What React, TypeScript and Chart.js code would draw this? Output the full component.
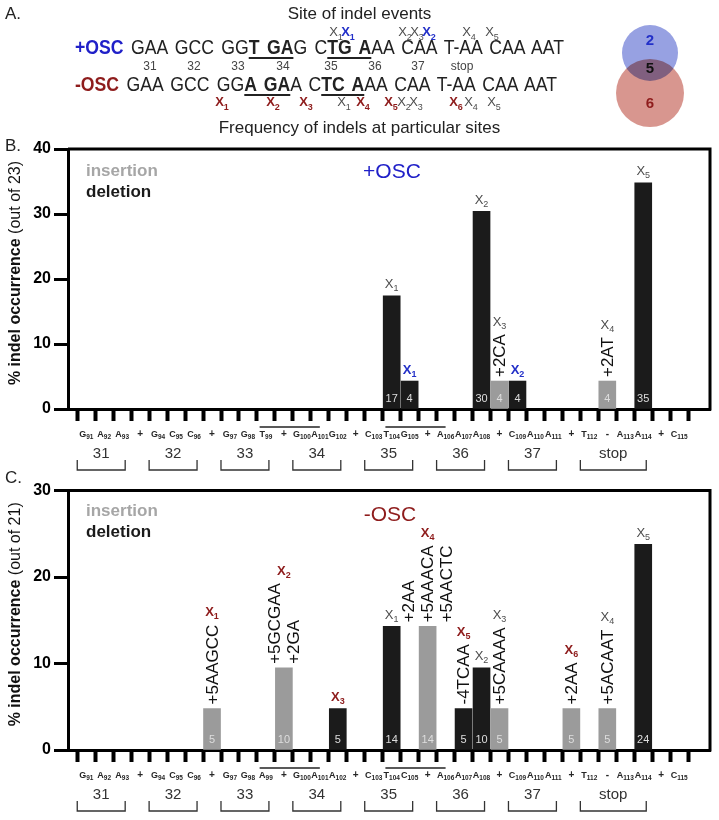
import React, { useEffect, useRef } from 'react';
import { Chart, registerables } from 'chart.js';
Chart.register(...registerables);

const FONT = '"Liberation Sans", Arial, Helvetica, sans-serif';
const INS_COLOR = '#9b9b9b';
const DEL_COLOR = '#1b1b1b';
const SITE_COLORS: Record<string, string> = { g: '#4d4d4d', b: '#2330c8', r: '#8e1c1c' };

// ---------- Panel A ----------
const seqPlus: [string, boolean][] = [['GAA GCC GG', false], ['T GA', true], ['G C', false], ['TG A', true], ['AA CAA T-AA CAA AAT', false]];
const seqMinus: [string, boolean][] = [['GAA GCC GG', false], ['A GA', true], ['A C', false], ['TC A', true], ['AA CAA T-AA CAA AAT', false]];
const codonNumbers = ['31', '32', '33', '34', '35', '36', '37', 'stop'];
const codonNumberX = [150, 194, 238, 283, 331, 375, 418, 462];
const siteTopN = ['1', '1', '2', '3', '2', '4', '5'];
const siteTopStyle = ['g', 'b', 'g', 'g', 'b', 'g', 'g'];
const siteTopX = [336, 348, 405, 417, 429, 469, 492];
const siteBotN = ['1', '2', '3', '1', '4', '5', '2', '3', '6', '4', '5'];
const siteBotStyle = ['r', 'r', 'r', 'g', 'r', 'r', 'g', 'g', 'r', 'g', 'g'];
const siteBotX = [222, 273, 306, 344, 363, 391, 404, 416, 456, 471, 494];
const vennLabels = ['2', '5', '6'];

// ---------- Panel B (+OSC, out of 23) ----------
const bCategories = ['G91', 'A92', 'A93', '+', 'G94', 'C95', 'C96', '+', 'G97', 'G98', 'T99', '+', 'G100', 'A101', 'G102', '+', 'C103', 'T104', 'G105', '+', 'A106', 'A107', 'A108', '+', 'C109', 'A110', 'A111', '+', 'T112', '-', 'A113', 'A114', '+', 'C115'];
const bBarCat = [17, 18, 22, 23, 24, 29, 31];
const bBarValue = [17.4, 4.3, 30.4, 4.3, 4.3, 4.3, 34.8];
const bBarType = ['del', 'del', 'del', 'ins', 'del', 'ins', 'del'];
const bBarCount = ['17', '4', '30', '4', '4', '4', '35'];
const bBarSite = ['X1', 'X1', 'X2', 'X3', 'X2', 'X4', 'X5'];
const bBarSiteStyle = ['g', 'b', 'g', 'g', 'b', 'g', 'g'];
const bBarIndel = ['', '', '', '+2CA', '', '+2AT', ''];
const bYTicks = [0, 10, 20, 30, 40];
const bOverlines = [[10, 13], [17, 20]];

// ---------- Panel C (-OSC, out of 21) ----------
const cCategories = ['G91', 'A92', 'A93', '+', 'G94', 'C95', 'C96', '+', 'G97', 'G98', 'A99', '+', 'G100', 'A101', 'A102', '+', 'C103', 'T104', 'C105', '+', 'A106', 'A107', 'A108', '+', 'C109', 'A110', 'A111', '+', 'T112', '-', 'A113', 'A114', '+', 'C115'];
const cBarCat = [7, 11, 14, 17, 19, 21, 22, 23, 27, 29, 31];
const cBarValue = [4.8, 9.5, 4.8, 14.3, 14.3, 4.8, 9.5, 4.8, 4.8, 4.8, 23.8];
const cBarType = ['ins', 'ins', 'del', 'del', 'ins', 'del', 'del', 'ins', 'ins', 'ins', 'del'];
const cBarCount = ['5', '10', '5', '14', '14', '5', '10', '5', '5', '5', '24'];
const cBarSite = ['X1', 'X2', 'X3', 'X1', 'X4', 'X5', 'X2', 'X3', 'X6', 'X4', 'X5'];
const cBarSiteStyle = ['r', 'r', 'r', 'g', 'r', 'r', 'g', 'g', 'r', 'g', 'g'];
const cBarIndel = ['+5AAGCC', '+5GCGAA|+2GA', '', '', '+2AA|+5AAACA|+5AACTC', '-4TCAA', '', '+5CAAAA', '+2AA', '+5ACAAT', ''];
const cYTicks = [0, 10, 20, 30];
const cOverlines = [[10, 13], [17, 20]];

// codon groups (same for both panels)
const codonLabels = ['31', '32', '33', '34', '35', '36', '37', 'stop'];
const codonFirst = [0, 4, 8, 12, 16, 20, 24, 28];
const codonLast = [2, 6, 10, 14, 18, 22, 26, 31];

type PanelProps = {
  categories: string[]; barCat: number[]; barValue: number[]; barType: string[]; barCount: string[];
  barSite: string[]; barSiteStyle: string[]; barIndel: string[]; yTicks: number[]; overlines: number[][];
  outOf: string; top: number; height: number; padTop: number; padBottom: number;
};

function drawSite(ctx: CanvasRenderingContext2D, label: string, style: string, x: number, y: number) {
  const n = label.slice(1);
  const bold = style !== 'g' ? 'bold ' : '';
  ctx.font = `${bold}13px ${FONT}`;
  const w1 = ctx.measureText('X').width;
  ctx.font = `${bold}9px ${FONT}`;
  const w2 = ctx.measureText(n).width;
  const sx = x - (w1 + w2) / 2;
  ctx.fillStyle = SITE_COLORS[style];
  ctx.textAlign = 'left';
  ctx.textBaseline = 'alphabetic';
  ctx.font = `${bold}13px ${FONT}`;
  ctx.fillText('X', sx, y + 4.5);
  ctx.font = `${bold}9px ${FONT}`;
  ctx.fillText(n, sx + w1, y + 7.5);
}

function makePlugin(p: PanelProps) {
  return {
    id: 'indelAnnotations',
    afterDraw(chart: any) {
      const ctx: CanvasRenderingContext2D = chart.ctx;
      const xs = chart.scales.x;
      const ys = chart.scales.y;
      const area = chart.chartArea;
      const axisY = ys.getPixelForValue(0);
      const step = xs.getPixelForValue(1) - xs.getPixelForValue(0);
      ctx.save();
      // box top and right borders
      ctx.strokeStyle = '#000';
      ctx.lineWidth = 3;
      ctx.beginPath();
      ctx.moveTo(area.left, area.top);
      ctx.lineTo(area.right, area.top);
      ctx.lineTo(area.right, axisY + 1.5);
      ctx.stroke();

      // bar annotations
      p.barCat.forEach((c, i) => {
        const x = xs.getPixelForValue(c);
        const yTop = ys.getPixelForValue(p.barValue[i]);
        ctx.font = `11px ${FONT}`;
        ctx.fillStyle = '#dedede';
        ctx.textAlign = 'center';
        ctx.textBaseline = 'middle';
        ctx.fillText(p.barCount[i], x, axisY - 10);
        const texts = p.barIndel[i] ? p.barIndel[i].split('|') : [];
        let maxW = 0;
        ctx.font = `17px ${FONT}`;
        ctx.fillStyle = '#111';
        texts.forEach((t, k) => {
          const off = (k - (texts.length - 1) / 2) * 19;
          const w = ctx.measureText(t).width;
          maxW = Math.max(maxW, w);
          ctx.save();
          ctx.translate(x + off + 1, yTop - 4);
          ctx.rotate(-Math.PI / 2);
          ctx.textAlign = 'left';
          ctx.textBaseline = 'middle';
          ctx.fillText(t, 0, 0);
          ctx.restore();
        });
        const my = texts.length ? yTop - 4 - maxW - 13 : yTop - 12;
        drawSite(ctx, p.barSite[i], p.barSiteStyle[i], x, my);
      });

      // category labels with subscripts
      ctx.fillStyle = '#262626';
      ctx.textBaseline = 'alphabetic';
      ctx.textAlign = 'left';
      p.categories.forEach((lab, i) => {
        const x = xs.getPixelForValue(i);
        const m = lab.match(/^([A-Z+\-])(\d*)$/);
        const L = m ? m[1] : lab;
        const sub = m ? m[2] : '';
        const big = sub ? 9 : 10;
        ctx.font = `bold ${big}px ${FONT}`;
        const w1 = ctx.measureText(L).width;
        ctx.font = `bold 6.5px ${FONT}`;
        const w2 = ctx.measureText(sub).width;
        const sx = x - (w1 + w2) / 2;
        ctx.font = `bold ${big}px ${FONT}`;
        ctx.fillText(L, sx, axisY + 28);
        ctx.font = `bold 6.5px ${FONT}`;
        ctx.fillText(sub, sx + w1, axisY + 30);
      });

      // overlines
      ctx.strokeStyle = '#222';
      ctx.lineWidth = 1.6;
      p.overlines.forEach(([a, b]) => {
        ctx.beginPath();
        ctx.moveTo(xs.getPixelForValue(a) - 0.35 * step, axisY + 18);
        ctx.lineTo(xs.getPixelForValue(b), axisY + 18);
        ctx.stroke();
      });

      // codon brackets
      ctx.strokeStyle = '#333';
      ctx.lineWidth = 1.3;
      ctx.fillStyle = '#333';
      ctx.font = `15px ${FONT}`;
      ctx.textAlign = 'center';
      ctx.textBaseline = 'middle';
      codonLabels.forEach((lab, i) => {
        const x0 = xs.getPixelForValue(codonFirst[i]) - 9;
        const x1 = xs.getPixelForValue(codonLast[i]) + 3;
        ctx.fillText(lab, (x0 + x1) / 2, axisY + 45);
        ctx.beginPath();
        ctx.moveTo(x0, axisY + 51);
        ctx.lineTo(x0, axisY + 61);
        ctx.lineTo(x1, axisY + 61);
        ctx.lineTo(x1, axisY + 51);
        ctx.stroke();
      });

      // y title
      ctx.save();
      ctx.translate(16, (area.top + axisY) / 2 - 6);
      ctx.rotate(-Math.PI / 2);
      const t1 = '% indel occurrence ';
      const t2 = `(out of ${p.outOf})`;
      ctx.font = `bold 16px ${FONT}`;
      const w1 = ctx.measureText(t1).width;
      ctx.font = `16px ${FONT}`;
      const w2 = ctx.measureText(t2).width;
      ctx.fillStyle = '#111';
      ctx.textAlign = 'left';
      ctx.textBaseline = 'middle';
      ctx.font = `bold 16px ${FONT}`;
      ctx.fillText(t1, -(w1 + w2) / 2, 0);
      ctx.font = `16px ${FONT}`;
      ctx.fillText(t2, -(w1 + w2) / 2 + w1, 0);
      ctx.restore();
      ctx.restore();
    },
  };
}

function IndelChart(p: PanelProps) {
  const ref = useRef<HTMLCanvasElement>(null);
  useEffect(() => {
    const toPoints = (type: string) =>
      p.barCat.map((c, i) => ({ x: c, y: p.barValue[i], t: p.barType[i] })).filter((d) => d.t === type).map((d) => ({ x: d.x, y: d.y }));
    const chart = new Chart(ref.current as HTMLCanvasElement, {
      type: 'bar',
      data: {
        datasets: [
          { label: 'insertion', data: toPoints('ins') as any, backgroundColor: INS_COLOR, barThickness: 17, grouped: false } as any,
          { label: 'deletion', data: toPoints('del') as any, backgroundColor: DEL_COLOR, barThickness: 17, grouped: false } as any,
        ],
      },
      options: {
        animation: false,
        responsive: false,
        layout: { padding: { top: p.padTop, left: 8, right: 9, bottom: p.padBottom } },
        plugins: { legend: { display: false }, tooltip: { enabled: false } },
        scales: {
          x: {
            type: 'linear',
            min: -0.49,
            max: 34.19,
            afterBuildTicks: (s: any) => { s.ticks = p.categories.map((_, i) => ({ value: i })); },
            afterFit: (s: any) => { s.height = 61; },
            ticks: { display: false },
            grid: { display: true, drawOnChartArea: false, drawTicks: true, tickLength: 12, tickWidth: 4, tickColor: '#000', color: '#000' },
            border: { display: true, width: 3, color: '#000' },
          },
          y: {
            min: 0,
            max: p.yTicks[p.yTicks.length - 1],
            afterBuildTicks: (s: any) => { s.ticks = p.yTicks.map((v) => ({ value: v })); },
            afterFit: (s: any) => { s.width = 60; },
            ticks: { font: { family: FONT, size: 16, weight: 'bold' }, color: '#000', padding: 3 },
            grid: { display: true, drawOnChartArea: false, drawTicks: true, tickLength: 14, tickWidth: 3, tickColor: '#000', color: '#000' },
            border: { display: true, width: 3, color: '#000' },
          },
        },
      } as any,
      plugins: [makePlugin(p)],
    });
    return () => chart.destroy();
  }, []);
  return (
    <div style={{ position: 'absolute', left: 0, top: p.top, width: 719, height: p.height }}>
      <canvas ref={ref} width={719} height={p.height} style={{ width: 719, height: p.height, display: 'block' }} />
    </div>
  );
}

function XMark({ x, y, n, s }: { x: number; y: number; n: string; s: string }) {
  const bold = s !== 'g';
  return (
    <span style={{ position: 'absolute', left: x, top: y, transform: 'translate(-50%,-50%)', color: SITE_COLORS[s], fontWeight: bold ? 700 : 400, fontSize: 13, fontFamily: FONT, whiteSpace: 'nowrap', lineHeight: 1 }}>
      X<span style={{ fontSize: 9, position: 'relative', top: 4 }}>{n}</span>
    </span>
  );
}

function SeqRow({ top, tag, tagColor, parts }: { top: number; tag: string; tagColor: string; parts: [string, boolean][] }) {
  return (
    <div style={{ position: 'absolute', left: 75, top, fontFamily: FONT, fontSize: 21, whiteSpace: 'pre', wordSpacing: '3px', lineHeight: '24px', color: '#222', transform: 'scaleX(0.84)', transformOrigin: '0 0' }}>
      <span style={{ fontWeight: 700, color: tagColor }}>{tag}</span>{' '}
      {parts.map(([t, u], i) =>
        u ? (
          <span key={i} style={{ fontWeight: 700, textDecoration: 'underline', textDecorationThickness: '2px', textUnderlineOffset: '3px' }}>{t}</span>
        ) : (
          <span key={i}>{t}</span>
        )
      )}
    </div>
  );
}

const abs = (left: number, top: number, extra: React.CSSProperties = {}): React.CSSProperties => ({ position: 'absolute', left, top, whiteSpace: 'nowrap', lineHeight: 1, ...extra });

export default function App() {
  return (
    <div style={{ position: 'absolute', left: 0, top: 0, width: 719, height: 820, background: '#fff', fontFamily: FONT, overflow: 'hidden', color: '#222' }}>
      {/* Panel A */}
      <div style={abs(5, 5, { fontSize: 17 })}>A.</div>
      <div style={{ position: 'absolute', left: 0, top: 5, width: 719, textAlign: 'center', fontSize: 17, lineHeight: 1 }}>Site of indel events</div>
      {siteTopN.map((n, i) => <XMark key={'t' + i} x={siteTopX[i]} y={31} n={n} s={siteTopStyle[i]} />)}
      <SeqRow top={35} tag="+OSC" tagColor="#2020c8" parts={seqPlus} />
      {codonNumbers.map((c, i) => (
        <div key={c} style={{ position: 'absolute', left: codonNumberX[i], top: 66, transform: 'translate(-50%,-50%)', fontSize: 12, color: '#444', lineHeight: 1 }}>{c}</div>
      ))}
      <SeqRow top={72} tag="-OSC" tagColor="#8e1c1c" parts={seqMinus} />
      {siteBotN.map((n, i) => <XMark key={'b' + i} x={siteBotX[i]} y={101} n={n} s={siteBotStyle[i]} />)}
      <svg style={{ position: 'absolute', left: 600, top: 15, width: 100, height: 120 }} viewBox="600 15 100 120">
        <circle cx={650} cy={93} r={34} fill="#d8968f" />
        <circle cx={650} cy={53} r={28} fill="#97a1e2" style={{ mixBlendMode: 'multiply' }} />
        <text x={650} y={45} textAnchor="middle" fontSize={15} fontWeight={700} fill="#2330c8" fontFamily={FONT}>{vennLabels[0]}</text>
        <text x={650} y={73} textAnchor="middle" fontSize={15} fontWeight={700} fill="#111" fontFamily={FONT}>{vennLabels[1]}</text>
        <text x={650} y={108} textAnchor="middle" fontSize={15} fontWeight={700} fill="#8e1c1c" fontFamily={FONT}>{vennLabels[2]}</text>
      </svg>

      <div style={{ position: 'absolute', left: 0, top: 119, width: 719, textAlign: 'center', fontSize: 17, lineHeight: 1 }}>Frequency of indels at particular sites</div>

      {/* Panel B */}
      <IndelChart categories={bCategories} barCat={bBarCat} barValue={bBarValue} barType={bBarType} barCount={bBarCount}
        barSite={bBarSite} barSiteStyle={bBarSiteStyle} barIndel={bBarIndel} yTicks={bYTicks} overlines={bOverlines}
        outOf="23" top={130} height={350} padTop={19} padBottom={10} />
      <div style={abs(5, 137, { fontSize: 17 })}>B.</div>
      <div style={abs(86, 162, { fontSize: 17, fontWeight: 700, color: '#a6a6a6' })}>insertion</div>
      <div style={abs(86, 183, { fontSize: 17, fontWeight: 700, color: '#1a1a1a' })}>deletion</div>
      <div style={{ position: 'absolute', left: 392, top: 170, transform: 'translate(-50%,-50%)', fontSize: 21, color: '#2020c8', lineHeight: 1 }}>+OSC</div>

      {/* Panel C */}
      <IndelChart categories={cCategories} barCat={cBarCat} barValue={cBarValue} barType={cBarType} barCount={cBarCount}
        barSite={cBarSite} barSiteStyle={cBarSiteStyle} barIndel={cBarIndel} yTicks={cYTicks} overlines={cOverlines}
        outOf="21" top={478} height={342} padTop={11} padBottom={9} />
      <div style={abs(5, 469, { fontSize: 17 })}>C.</div>
      <div style={abs(86, 502, { fontSize: 17, fontWeight: 700, color: '#a6a6a6' })}>insertion</div>
      <div style={abs(86, 523, { fontSize: 17, fontWeight: 700, color: '#1a1a1a' })}>deletion</div>
      <div style={{ position: 'absolute', left: 390, top: 513, transform: 'translate(-50%,-50%)', fontSize: 21, color: '#8e1c1c', lineHeight: 1 }}>-OSC</div>
    </div>
  );
}
